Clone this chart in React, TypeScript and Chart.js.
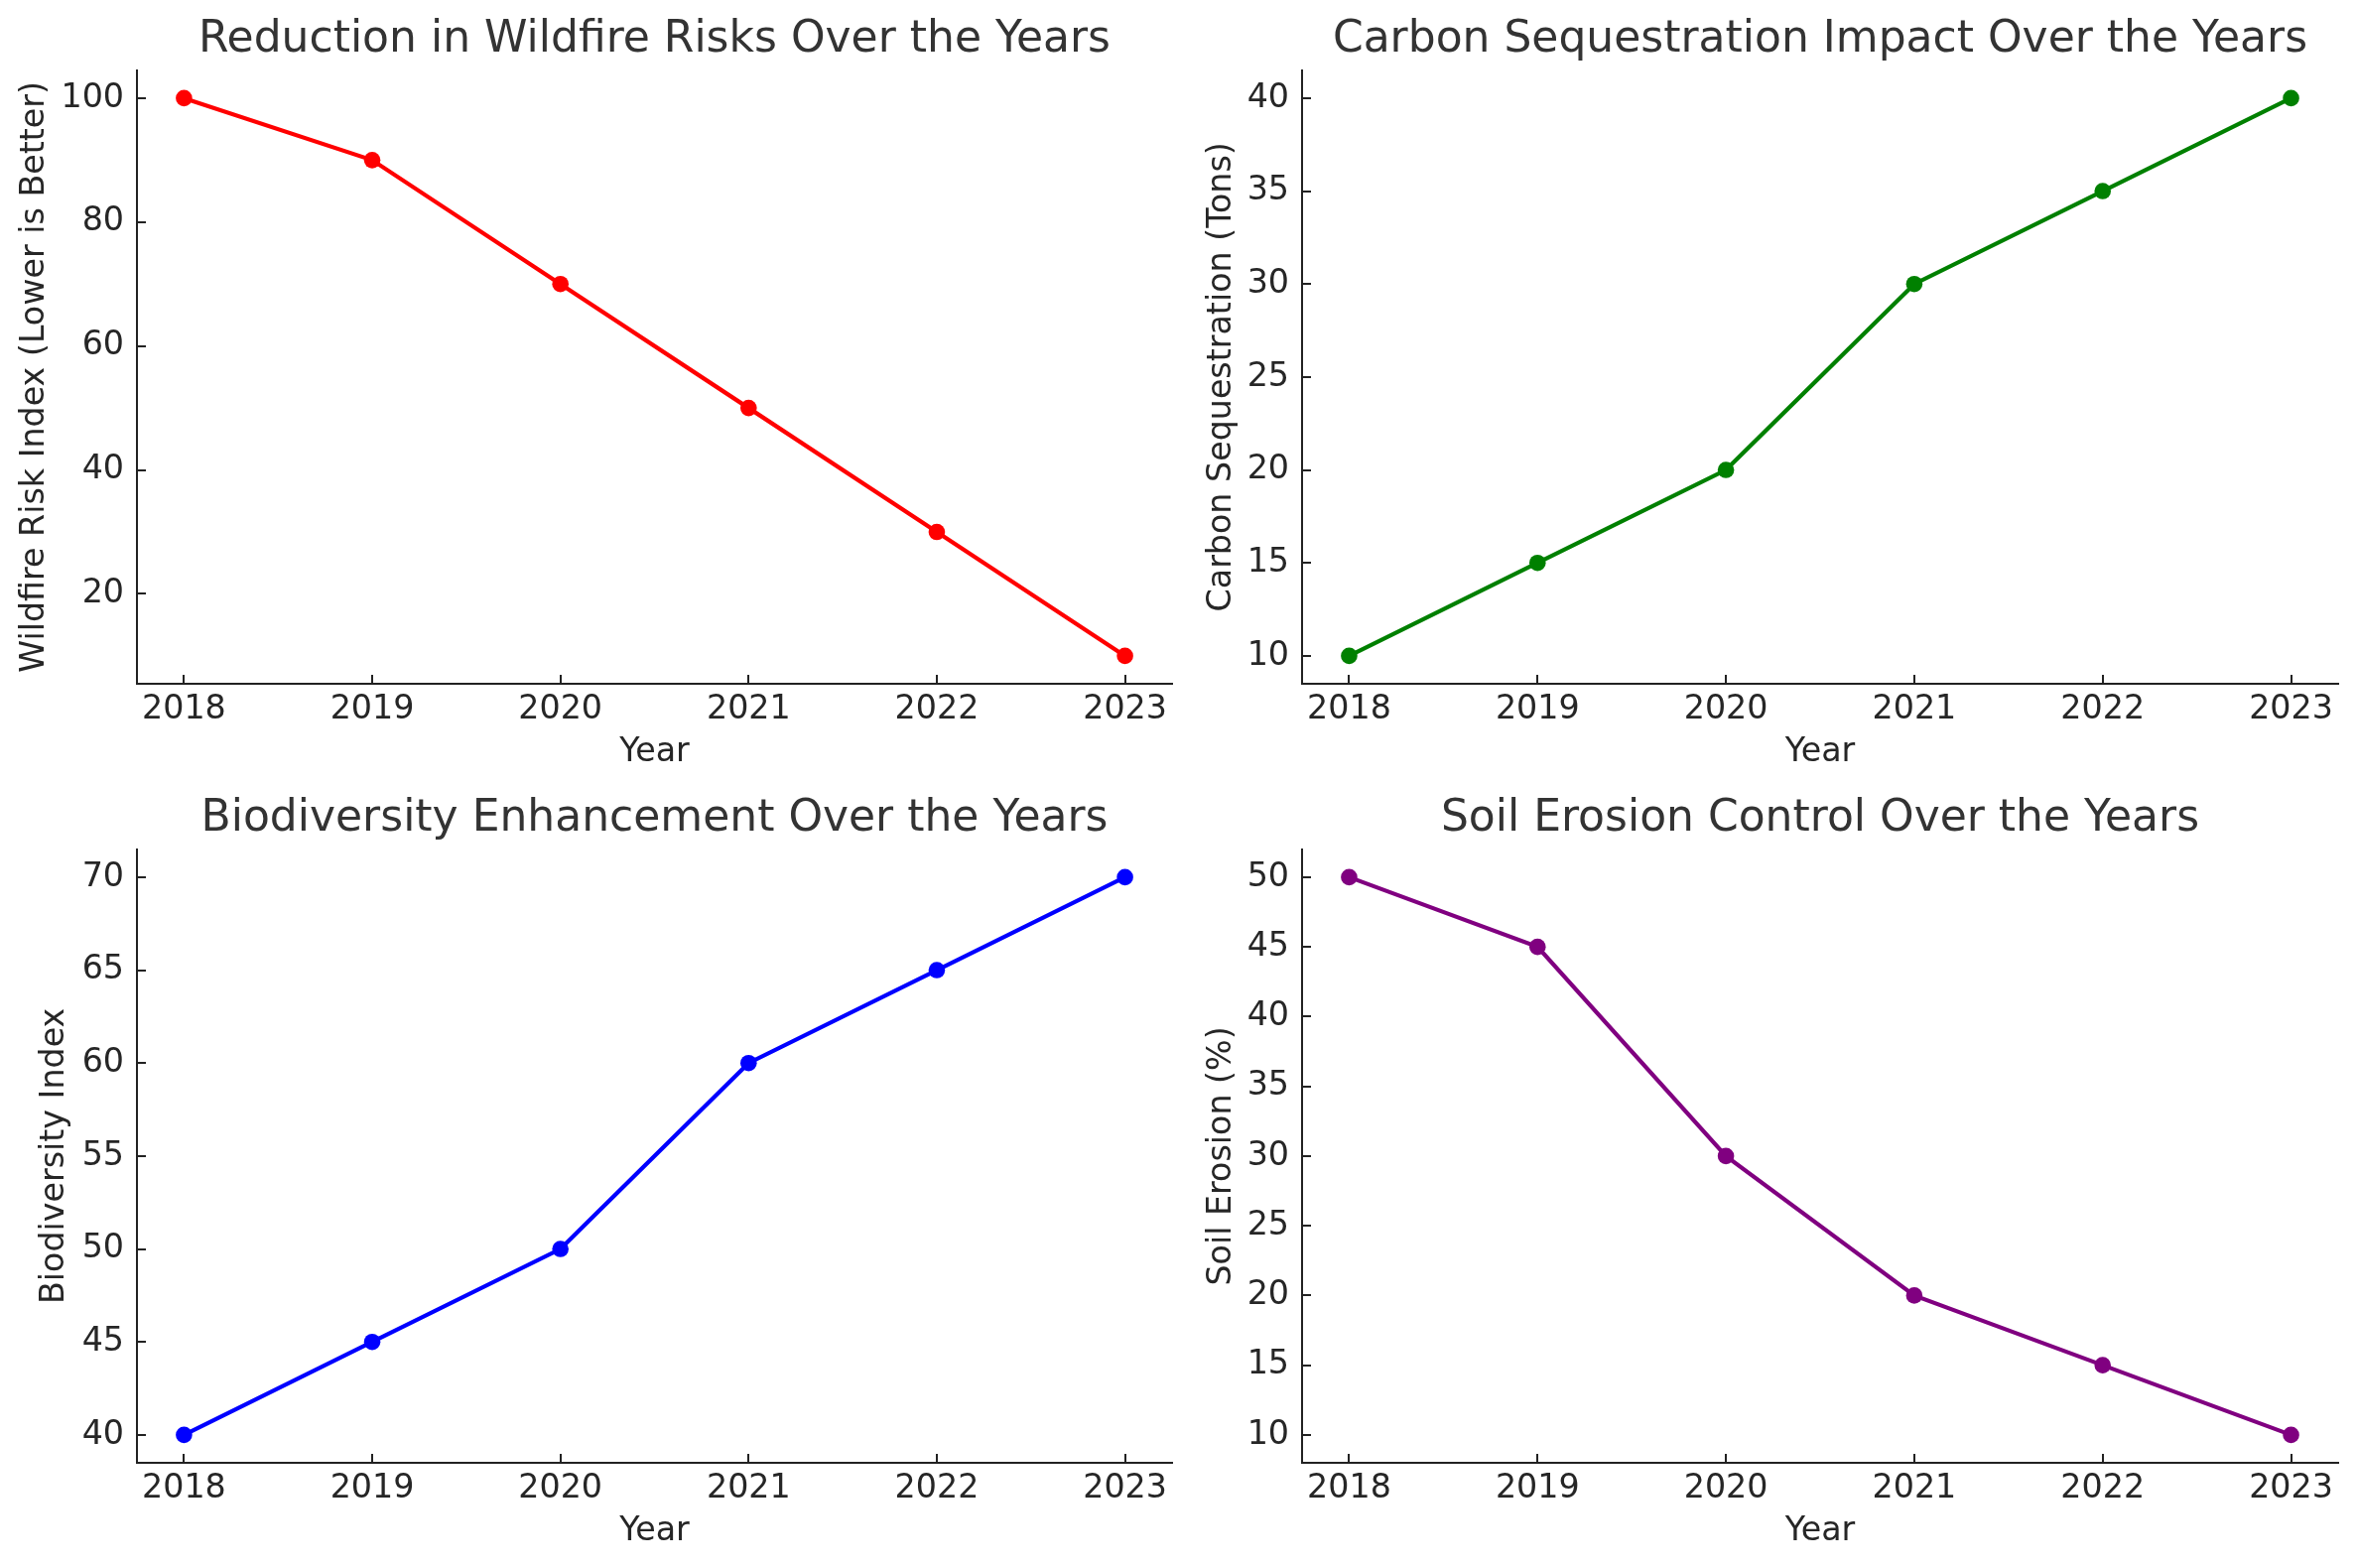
import React, { useEffect, useRef } from 'react';
import { Chart, registerables } from 'chart.js';

Chart.register(...registerables);

// ---- data ----
const years = [2018, 2019, 2020, 2021, 2022, 2023];
const wildfireRisk = [100, 90, 70, 50, 30, 10];
const carbonSequestration = [10, 15, 20, 30, 35, 40];
const biodiversityIndex = [40, 45, 50, 60, 65, 70];
const soilErosion = [50, 45, 30, 20, 15, 10];

const wildfireTicks = [20, 40, 60, 80, 100];
const carbonTicks = [10, 15, 20, 25, 30, 35, 40];
const biodiversityTicks = [40, 45, 50, 55, 60, 65, 70];
const soilTicks = [10, 15, 20, 25, 30, 35, 40, 45, 50];
const yearTicks = [2018, 2019, 2020, 2021, 2022, 2023];

const panelTitles = [
  'Reduction in Wildfire Risks Over the Years',
  'Carbon Sequestration Impact Over the Years',
  'Biodiversity Enhancement Over the Years',
  'Soil Erosion Control Over the Years',
];
const yAxisLabels = [
  'Wildfire Risk Index (Lower is Better)',
  'Carbon Sequestration (Tons)',
  'Biodiversity Index',
  'Soil Erosion (%)',
];
const xAxisLabel = 'Year';

// ---- style ----
const FONT = '"DejaVu Sans", sans-serif';
const TEXT = '#262626';
const TITLE = '#333333';
const SPINE = '#222222';

const inwardTicks = {
  id: 'inwardTicks',
  afterDraw(chart: any) {
    const { ctx, chartArea, scales } = chart;
    const xs = scales.x;
    const ys = scales.y;
    ctx.save();
    ctx.strokeStyle = SPINE;
    ctx.lineWidth = 2;
    ctx.beginPath();
    xs.ticks.forEach((t: any) => {
      const px = Math.round(xs.getPixelForValue(t.value));
      ctx.moveTo(px, chartArea.bottom);
      ctx.lineTo(px, chartArea.bottom - 9);
    });
    ys.ticks.forEach((t: any) => {
      const py = Math.round(ys.getPixelForValue(t.value));
      ctx.moveTo(chartArea.left, py);
      ctx.lineTo(chartArea.left + 9, py);
    });
    ctx.stroke();
    ctx.restore();
  },
};

type Panel = {
  left: number;
  top: number;
  width: number;
  height: number;
  yAxisWidth: number;
  rightPad: number;
  yTitlePad: number;
  color: string;
  values: number[];
  yTicks: number[];
  title: string;
  yLabel: string;
};

const CANVAS_H = 785;
const X_AXIS_H = 96;

const panels: Panel[] = [
  { left: 0, top: 0, width: 1200, height: CANVAS_H, yAxisWidth: 138, rightPad: 19, yTitlePad: 15, color: '#ff0000', values: wildfireRisk, yTicks: wildfireTicks, title: panelTitles[0], yLabel: yAxisLabels[0] },
  { left: 1200, top: 0, width: 1175, height: CANVAS_H, yAxisWidth: 112, rightPad: 19, yTitlePad: 11, color: '#008000', values: carbonSequestration, yTicks: carbonTicks, title: panelTitles[1], yLabel: yAxisLabels[1] },
  { left: 0, top: 785, width: 1200, height: CANVAS_H, yAxisWidth: 138, rightPad: 19, yTitlePad: 35, color: '#0000ff', values: biodiversityIndex, yTicks: biodiversityTicks, title: panelTitles[2], yLabel: yAxisLabels[2] },
  { left: 1200, top: 785, width: 1175, height: CANVAS_H, yAxisWidth: 112, rightPad: 19, yTitlePad: 11, color: '#800080', values: soilErosion, yTicks: soilTicks, title: panelTitles[3], yLabel: yAxisLabels[3] },
];

function PanelChart({ p }: { p: Panel }) {
  const ref = useRef<HTMLCanvasElement | null>(null);
  useEffect(() => {
    if (!ref.current) return;
    const vmin = Math.min(...p.values);
    const vmax = Math.max(...p.values);
    const ym = (vmax - vmin) * 0.05;
    const xmn = Math.min(...years);
    const xmx = Math.max(...years);
    const xm = (xmx - xmn) * 0.05;
    const chart = new Chart(ref.current, {
      type: 'line',
      data: {
        datasets: [
          {
            data: years.map((y, i) => ({ x: y, y: p.values[i] })),
            borderColor: p.color,
            backgroundColor: p.color,
            borderWidth: 4.2,
            pointRadius: 8.3,
            pointHoverRadius: 8.3,
            pointBorderWidth: 0,
            pointBackgroundColor: p.color,
            tension: 0,
            fill: false,
          },
        ],
      },
      options: {
        responsive: false,
        animation: false,
        devicePixelRatio: 1,
        layout: { padding: { left: 0, right: p.rightPad, top: 0, bottom: 0 } },
        plugins: {
          legend: { display: false },
          tooltip: { enabled: false },
          title: {
            display: true,
            text: p.title,
            color: TITLE,
            font: { family: FONT, size: 44, weight: 'normal' },
            padding: { top: 14, bottom: 4 },
            fullSize: false,
          } as any,
        },
        scales: {
          x: {
            type: 'linear',
            min: xmn - xm,
            max: xmx + xm,
            afterBuildTicks: (s: any) => {
              s.ticks = yearTicks.map((v) => ({ value: v }));
            },
            afterFit: (s: any) => {
              s.height = X_AXIS_H;
            },
            grid: { display: false, drawTicks: false },
            border: { display: true, color: SPINE, width: 2 },
            ticks: {
              color: TEXT,
              font: { family: FONT, size: 33.3 },
              padding: 6,
              maxRotation: 0,
              autoSkip: false,
              callback: (v: any) => String(v),
            },
            title: {
              display: true,
              text: xAxisLabel,
              color: TEXT,
              font: { family: FONT, size: 33.3 },
              padding: { top: 0, bottom: 7 },
            },
          },
          y: {
            type: 'linear',
            min: vmin - ym,
            max: vmax + ym,
            afterBuildTicks: (s: any) => {
              s.ticks = p.yTicks.map((v) => ({ value: v }));
            },
            afterFit: (s: any) => {
              s.width = p.yAxisWidth;
            },
            grid: { display: false, drawTicks: false },
            border: { display: true, color: SPINE, width: 2 },
            ticks: {
              color: TEXT,
              font: { family: FONT, size: 33.3 },
              padding: 13,
              autoSkip: false,
              callback: (v: any) => String(v),
            },
            title: {
              display: true,
              text: p.yLabel,
              color: TEXT,
              font: { family: FONT, size: 33.3 },
              padding: { top: p.yTitlePad, bottom: 0 },
            },
          },
        },
      },
      plugins: [inwardTicks],
    } as any);
    return () => chart.destroy();
  }, [p]);
  return (
    <div style={{ position: 'absolute', left: p.left, top: p.top, width: p.width, height: p.height }}>
      <canvas ref={ref} width={p.width} height={p.height} style={{ width: p.width, height: p.height, display: 'block' }} />
    </div>
  );
}

export default function App() {
  useEffect(() => {
    document.body.style.margin = '0';
    document.body.style.background = '#ffffff';
  }, []);
  return (
    <div style={{ position: 'absolute', left: 0, top: 0, width: 2375, height: 1580, background: '#ffffff' }}>
      {panels.map((p, i) => (
        <PanelChart key={i} p={p} />
      ))}
    </div>
  );
}
